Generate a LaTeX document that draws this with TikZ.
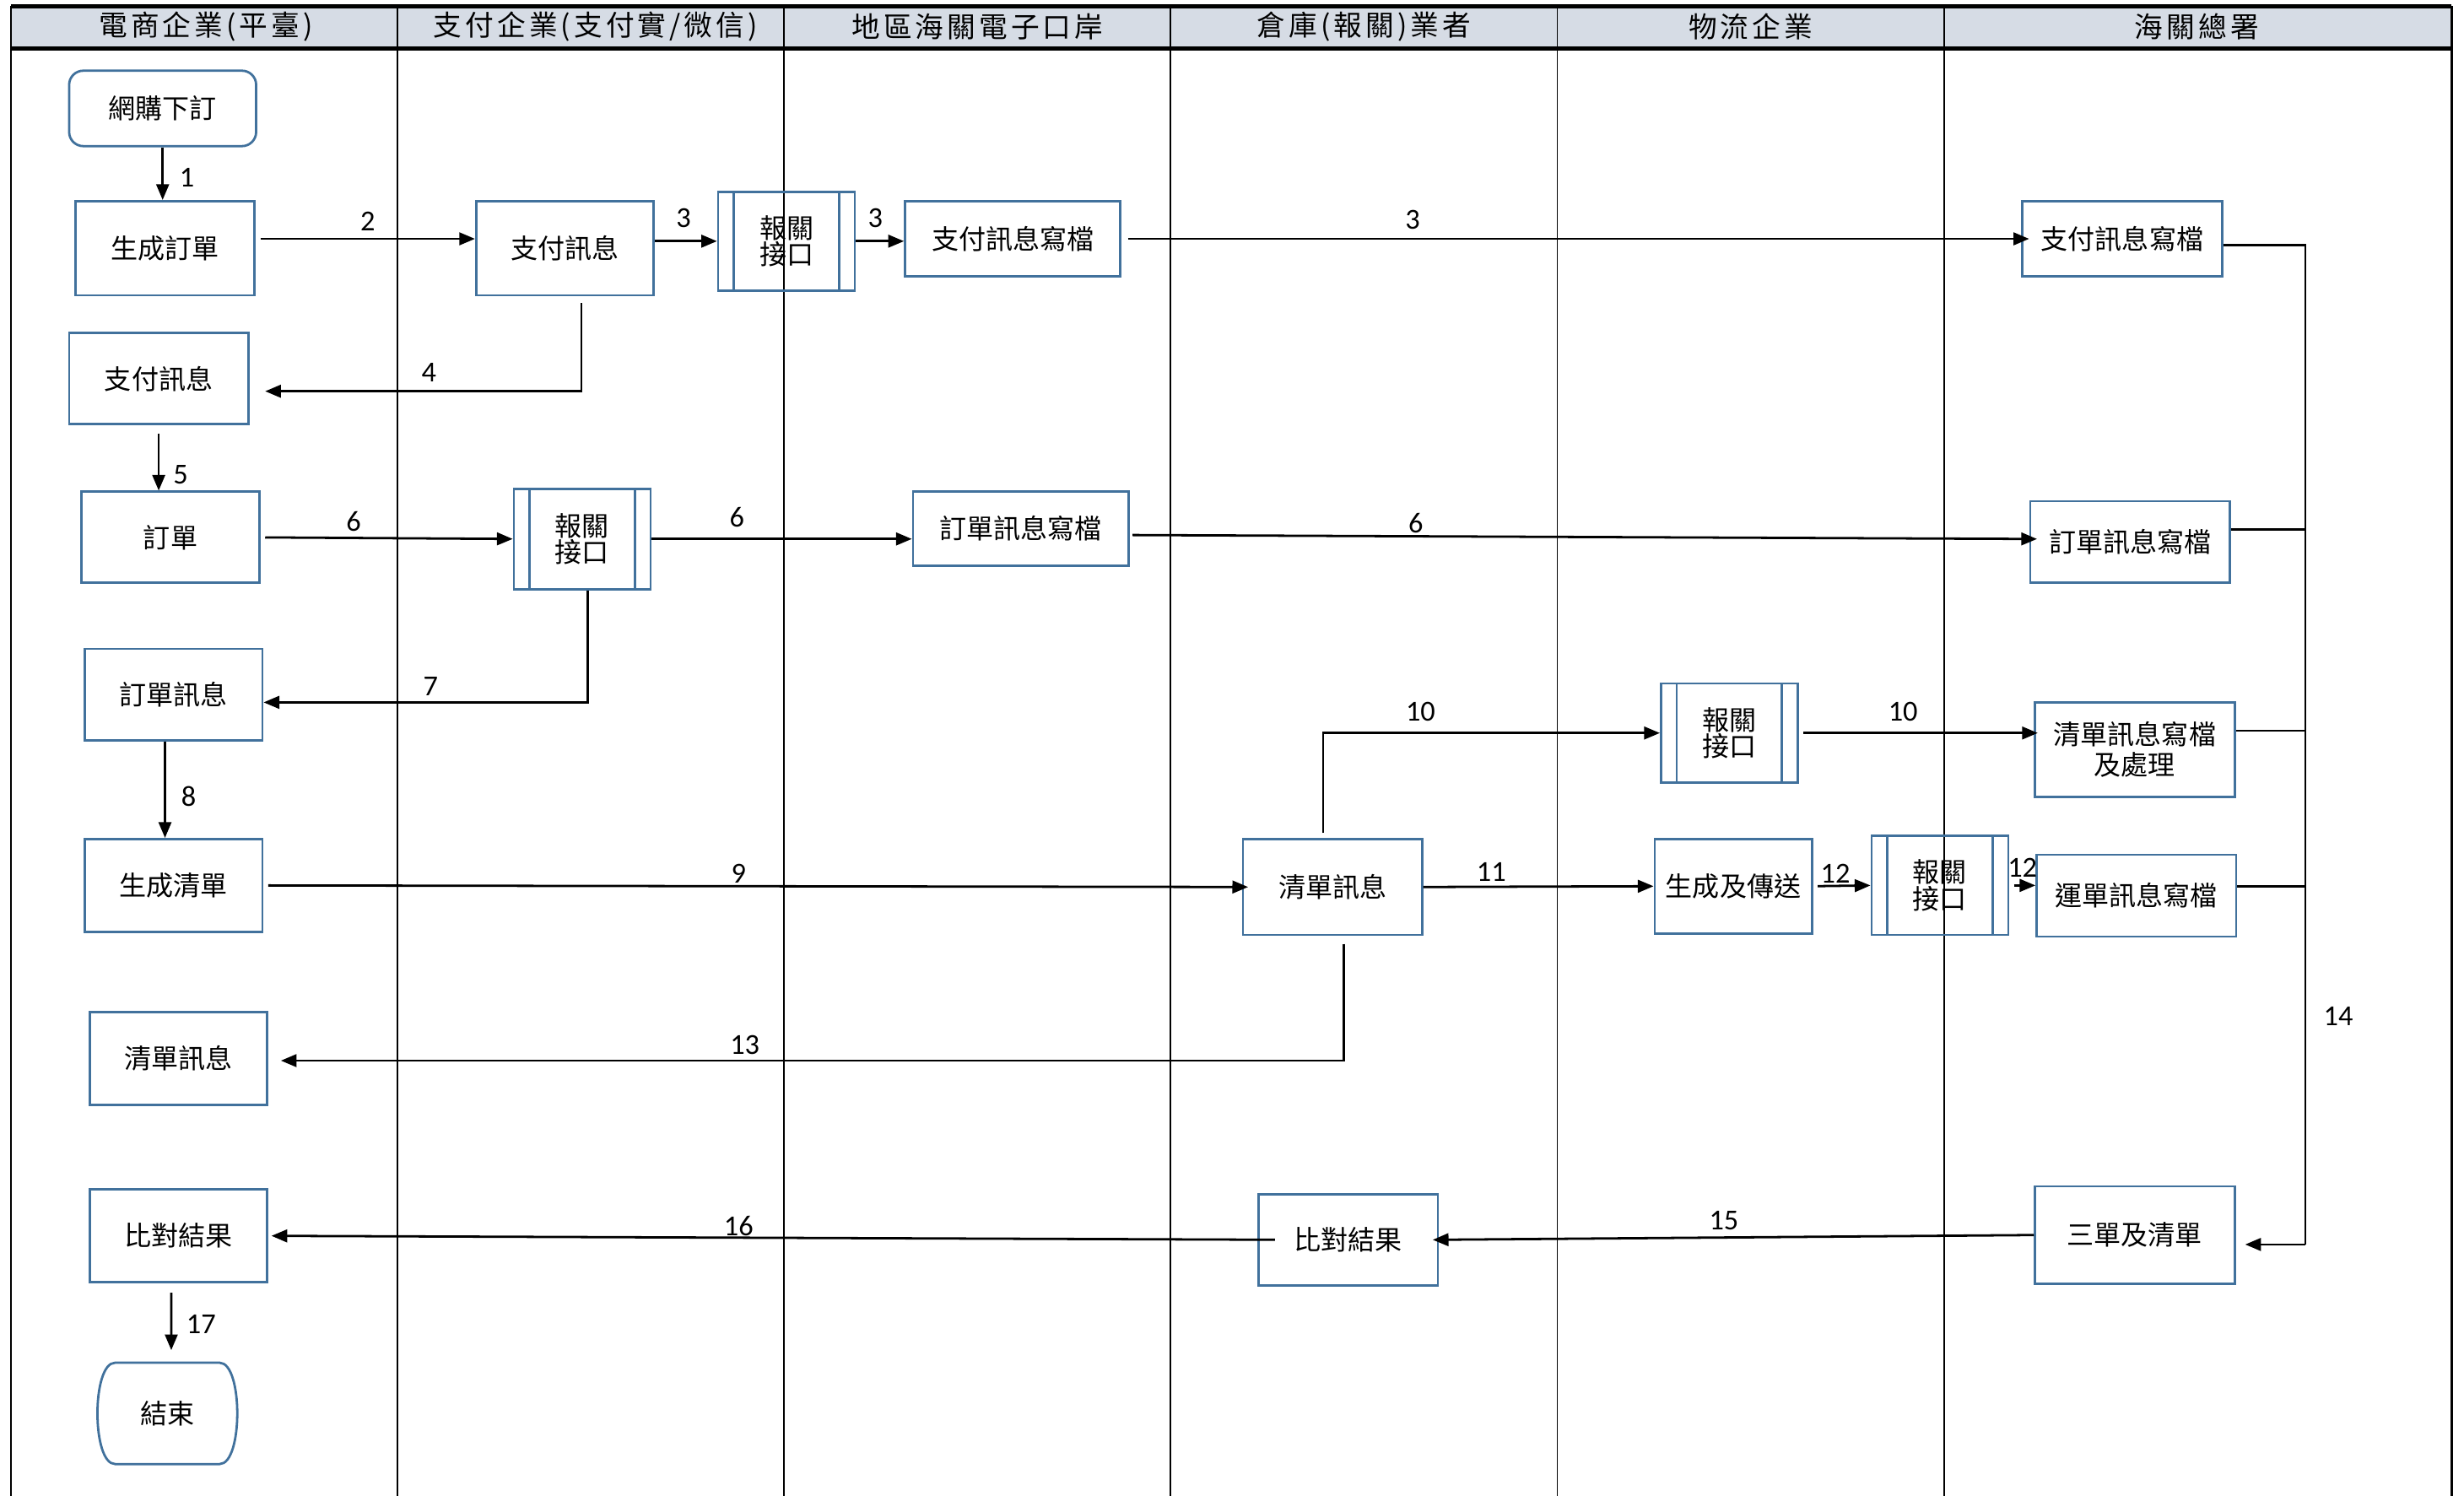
\documentclass[tikz,border=0pt]{standalone}
\usepackage{fontspec}
\setmainfont{Noto Sans CJK TC}
\newfontfamily\numfont{Carlito}
\usetikzlibrary{arrows.meta}
\def\uu{0.02cm}
\definecolor{boxblue}{HTML}{41719C}
\definecolor{headfill}{HTML}{D6DCE5}
\begin{document}
\begin{tikzpicture}[x=0.02cm,y=-0.02cm,
  box/.style={draw=boxblue, line width=0.85pt, inner sep=0pt, align=center, font=\fontsize{9.8}{11}\selectfont},
  bx/.style 2 args={minimum width=#1*\uu, minimum height=#2*\uu},
  iface/.style={font=\fontsize{9.8}{9.6}\selectfont,
    path picture={\draw[boxblue, line width=0.85pt]
      ([xshift=10*\uu]path picture bounding box.north west) -- ([xshift=10*\uu]path picture bounding box.south west)
      ([xshift=-10*\uu]path picture bounding box.north east) -- ([xshift=-10*\uu]path picture bounding box.south east);}},
  ln/.style={line width=0.85pt, black},
  arr/.style={ln, -{Triangle[length=0.2cm, width=0.16cm]}},
  lbl/.style={font=\numfont\fontsize{10.5}{10.5}\selectfont, inner sep=0pt},
  hd/.style={font=\fontsize{10.3}{10.3}\selectfont\addfontfeature{LetterSpace=12}, inner sep=0pt}
]
\useasboundingbox (0,0) rectangle (1568,952);
% frame
\fill[headfill] (7,4) rectangle (1560,31);
\foreach \x in {253,499,745,991,1237} \draw[line width=0.6pt] (\x,4) -- (\x,952);
\draw[line width=0.85pt] (7,4) -- (7,952) (1560,4) -- (1560,952);
\draw[line width=1.4pt] (7,4) -- (1560,4) (7,31) -- (1560,31);
\node[hd] (h1) at (131,17) {電商企業(平臺)};
\node[hd] (h2) at (379,17) {支付企業(支付實/微信)};
\node[hd] (h3) at (622,17) {地區海關電子口岸};
\node[hd] (h4) at (868,17) {倉庫(報關)業者};
\node[hd] (h5) at (1114,17) {物流企業};
\node[hd] (h6) at (1398,17) {海關總署};

% nodes
\node[box, bx={119}{48}, rounded corners=0.18cm] (start) at (103.5,69) {網購下訂};
\node[box, bx={114}{60}] (gen) at (105,158) {生成訂單};
\node[box, bx={113}{60}] (pay) at (359.5,158) {支付訊息};
\node[box, iface, bx={87}{63}] (if1) at (500.5,153.5) {報關\\接口};
\node[box, bx={137}{48}] (paywrA) at (644.5,152) {支付訊息寫檔};
\node[box, bx={127}{48}] (paywrB) at (1350.5,152) {支付訊息寫檔};
\node[box, bx={114}{58}] (paym) at (101,241) {支付訊息};
\node[box, bx={113}{58}] (order) at (108.5,342) {訂單};
\node[box, iface, bx={87}{64}] (if2) at (370.5,343) {報關\\接口};
\node[box, bx={137}{47}] (ordwrA) at (649.5,336.5) {訂單訊息寫檔};
\node[box, bx={127}{52}] (ordwrB) at (1355.5,345) {訂單訊息寫檔};
\node[box, bx={113}{58}] (ordm) at (110.5,442) {訂單訊息};
\node[box, iface, bx={87}{63}] (if3) at (1100.5,466.5) {報關\\接口};
\node[box, bx={127}{60}] (clwr) at (1358.5,477) {清單訊息寫檔\\及處理};
\node[box, bx={113}{59}] (gencl) at (110.5,563.5) {生成清單};
\node[box, bx={114}{61}] (clmD) at (848,564.5) {清單訊息};
\node[box, bx={100}{60}] (gensend) at (1103,564) {生成及傳送};
\node[box, iface, bx={87}{63}] (if4) at (1234.5,563.5) {報關\\接口};
\node[box, bx={127}{52}] (waywr) at (1359.5,570) {運單訊息寫檔};
\node[box, bx={113}{59}] (clmA) at (113.5,673.5) {清單訊息};
\node[box, bx={113}{59}] (cmpA) at (113.5,786.5) {比對結果};
\node[box, bx={114}{58}] (cmpD) at (858,789) {比對結果};
\node[box, bx={127}{62}] (three) at (1358.5,786) {三單及清單};
\node[box, draw=none, bx={89}{63}] (fin) at (106.5,899.5) {結束};
\draw[boxblue, line width=0.85pt]
  ([xshift=12*\uu]fin.north west) -- ([xshift=-12*\uu]fin.north east)
  .. controls ([xshift=3*\uu]fin.north east) and ([xshift=3*\uu]fin.south east) .. ([xshift=-12*\uu]fin.south east)
  -- ([xshift=12*\uu]fin.south west)
  .. controls ([xshift=-3*\uu]fin.south west) and ([xshift=-3*\uu]fin.north west) .. cycle;

% bus coordinates for 14
\coordinate (j1) at (1467,156);
\coordinate (j2) at (1467,337);
\coordinate (j3) at (1467,465);
\coordinate (j4) at (1467,564);
\coordinate (jB) at (1467,792);

% connectors
\draw[arr] (start.south) -- (start.south |- gen.north);
\draw[arr, shorten <=0.06cm] ([yshift=6*\uu]gen.east) -- ([yshift=6*\uu]pay.west);
\draw[arr] (pay.east |- if1.west) -- (if1.west);
\draw[arr] (if1.east) -- (if1.east -| paywrA.west);
\draw[arr, shorten <=0.08cm, shorten >=-0.1cm] (paywrA.east) -- (paywrB.west);
\draw[arr, shorten <=0.08cm, shorten >=0.2cm] ([xshift=10.5*\uu]pay.south) |- ([yshift=-8*\uu]paym.east);
\draw[arr, shorten <=0.1cm] (paym.south) -- (paym.south |- order.north);
\draw[arr, shorten <=0.06cm] (order.east) -- (if2.west);
\draw[arr] (if2.east) -- (if2.east -| ordwrA.west);
\draw[arr, shorten <=0.04cm, shorten >=-0.1cm] ([yshift=-4*\uu]ordwrA.east) -- ([yshift=2*\uu]ordwrB.west);
\draw[arr] ([xshift=3.5*\uu]if2.south) |- ([yshift=-5*\uu]ordm.east);
\draw[arr] ([xshift=-5.5*\uu]ordm.south) -- ([xshift=-5.5*\uu]gencl.north);
\draw[arr, shorten <=0.06cm, shorten >=-0.08cm] (gencl.east) -- (clmD.west);
\draw[arr, shorten <=0.06cm] ([xshift=-6*\uu]clmD.north) |- (if3.west);
\draw[arr, shorten <=0.06cm, shorten >=-0.05cm] (if3.east) -- (if3.east -| clwr.west);
\draw[arr] (clmD.east) -- (gensend.west);
\draw[arr, shorten <=0.06cm] (gensend.east) -- (if4.west);
\draw[arr, shorten <=0.06cm] (if4.east) -- (if4.east -| waywr.west);
\draw[arr, shorten <=0.1cm, shorten >=0.16cm] ([xshift=7*\uu]clmD.south) |- ([yshift=-1.5*\uu]clmA.east);
\draw[ln] (paywrB.east |- j1) -- (j1) -- (jB);
\draw[ln] (ordwrB.east |- j2) -- (j2);
\draw[ln] (clwr.east |- j3) -- (j3);
\draw[ln] (waywr.east |- j4) -- (j4);
\draw[arr, shorten >=0.12cm] (jB) -- (three.east |- jB);
\draw[arr, shorten >=-0.08cm] (three.west) -- (cmpD.east);
\draw[arr, shorten >=0.04cm] ([xshift=11*\uu]cmpD.west) -- (cmpA.east);
\draw[arr, shorten <=0.12cm, shorten >=0.16cm] ([xshift=-4.5*\uu]cmpA.south) -- ([xshift=2.5*\uu]fin.north);

% labels
\node[lbl] (l1) at (119,113) {1};
\node[lbl] (l2) at (234,141) {2};
\node[lbl] (l3a) at (435,139) {3};
\node[lbl] (l3b) at (557,139) {3};
\node[lbl] (l3c) at (899,140) {3};
\node[lbl] (l4) at (273,237) {4};
\node[lbl] (l5) at (115,302) {5};
\node[lbl] (l6a) at (225,332) {6};
\node[lbl] (l6b) at (469,329) {6};
\node[lbl] (l6c) at (901,333) {6};
\node[lbl] (l7) at (274,437) {7};
\node[lbl] (l8) at (120,507) {8};
\node[lbl] (l9) at (470,556) {9};
\node[lbl] (l10a) at (904,453) {10};
\node[lbl] (l10b) at (1211,453) {10};
\node[lbl] (l11) at (949,555) {11};
\node[lbl] (l12a) at (1168,556) {12};
\node[lbl] (l12b) at (1287,552) {12};
\node[lbl] (l13) at (474,665) {13};
\node[lbl] (l14) at (1488,647) {14};
\node[lbl] (l15) at (1097,777) {15};
\node[lbl] (l16) at (470,780) {16};
\node[lbl] (l17) at (128,843) {17};
\end{tikzpicture}
\end{document}
